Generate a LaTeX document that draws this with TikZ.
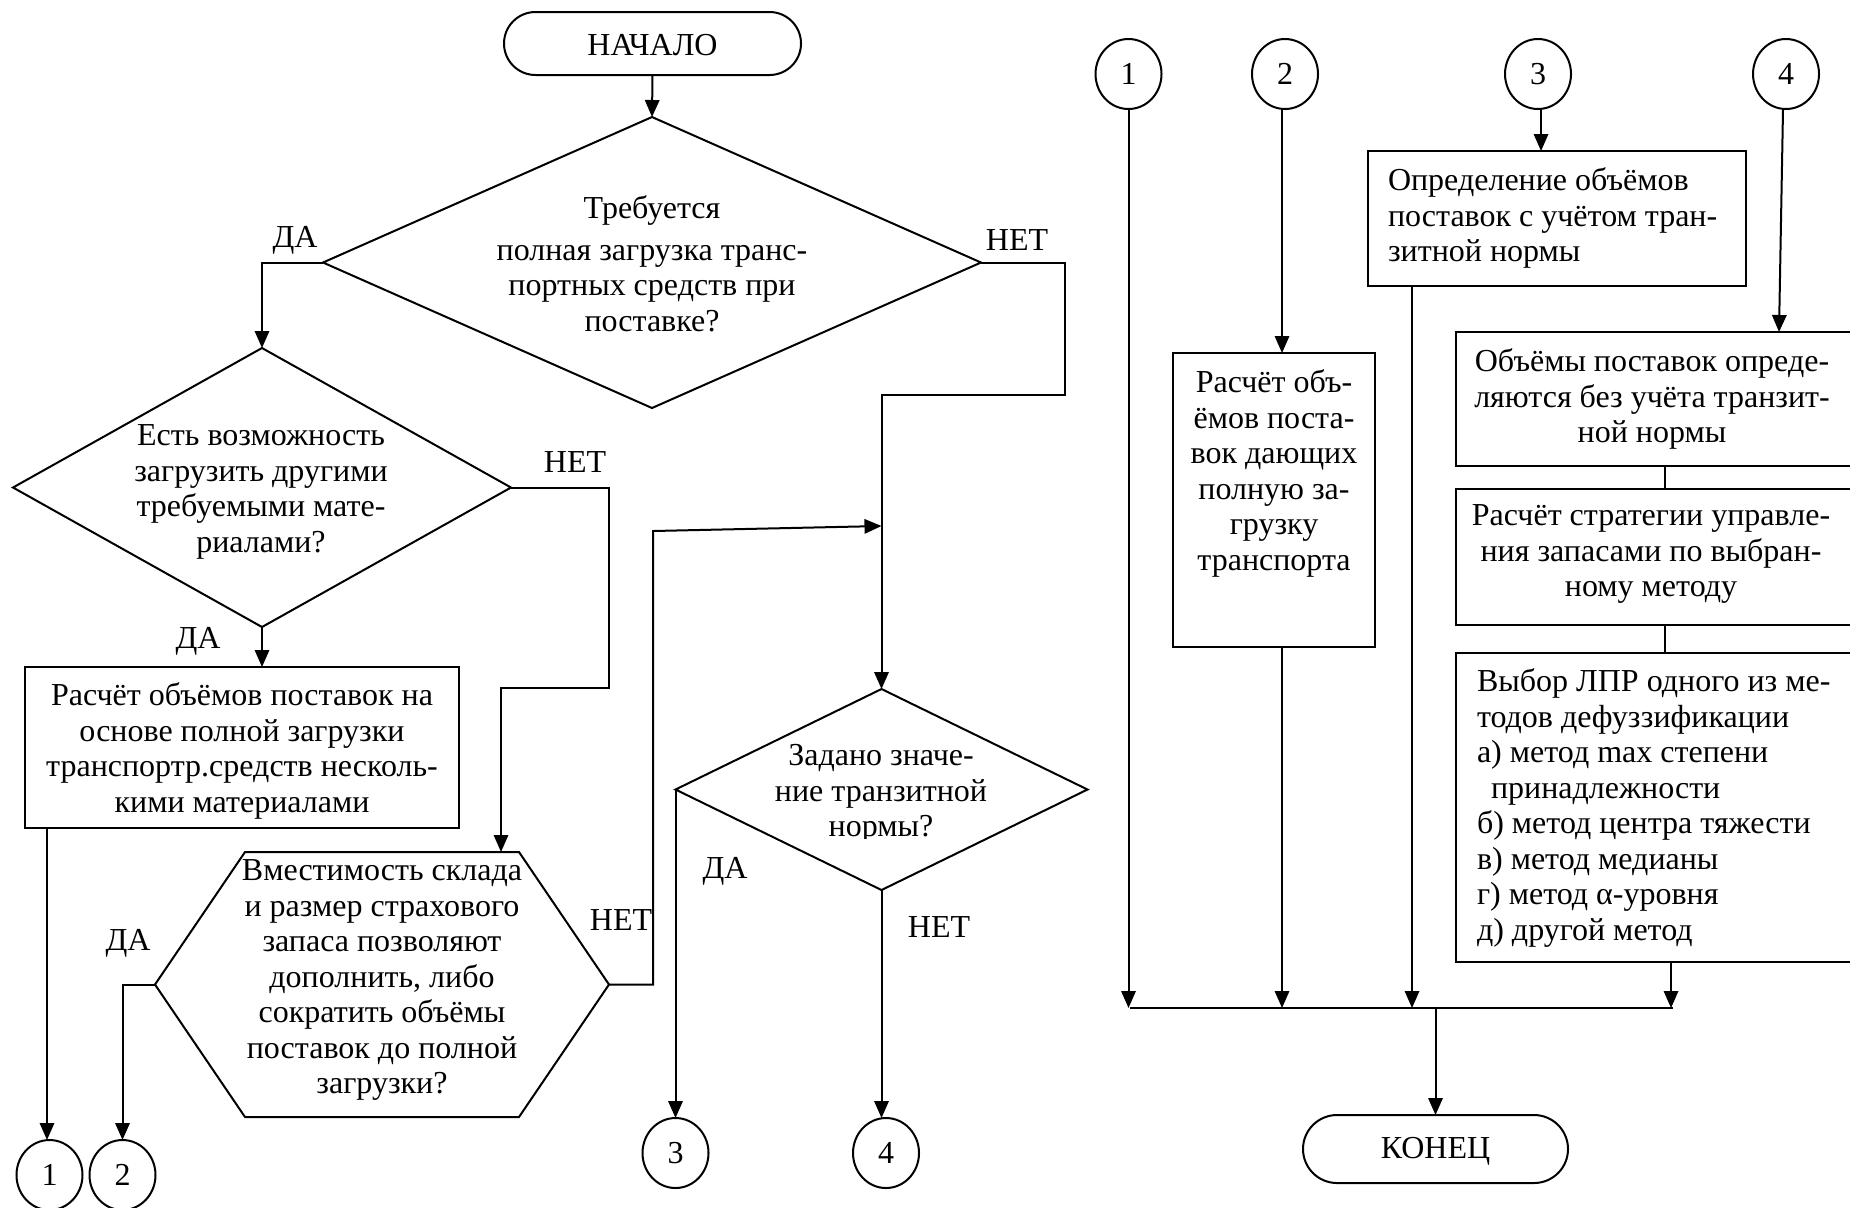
\documentclass[tikz,border=0pt]{standalone}
\usepackage{fontspec}
\setmainfont{Liberation Serif}
\usetikzlibrary{shapes.geometric,shapes.misc,arrows.meta}
\begin{document}
\begin{tikzpicture}[x=0.5pt,y=-0.5pt,
  every node/.style={font=\fontsize{16pt}{17.75pt}\selectfont, inner sep=0pt, outer sep=0pt},
  ln/.style={line width=1pt},
  arr/.style={ln, -{Triangle[length=8.5pt,width=7.2pt]}},
  shp/.style={draw, line width=1pt},
  dia/.style={shp, diamond},
  box/.style={shp, rectangle},
  term/.style={shp, rounded rectangle},
  conn/.style={shp, ellipse, minimum width=33pt, minimum height=35pt},
  txt/.style={align=center},
  ltxt/.style={align=left, anchor=west}
]
\useasboundingbox (0,0) rectangle (1850,1207);
\clip (0,0) rectangle (1850,1207);

% ---------- left part ----------
\node[term, minimum width=148.5pt, minimum height=31.5pt] (T1) at (652.5,43.5) {};
\node (T1t) at (652.5,45.5) {НАЧАЛО};

\node[dia, minimum width=329pt, minimum height=145.5pt] (D1) at (652,262.5) {};
\node[txt] (D1t) at (652,264) {Требуется\\[3pt]полная загрузка транс-\\портных средств при\\поставке?};

\node[dia, minimum width=249pt, minimum height=139.5pt] (D2) at (262,487.5) {};
\node[txt] (D2t) at (261,492) {Есть возможность\\загрузить другими\\требуемыми мате-\\риалами?};

\node[box, minimum width=217pt, minimum height=80.5pt] (B1) at (242,747.5) {};
\node[txt] (B1t) at (242,751) {Расчёт объёмов поставок на\\основе полной загрузки\\транспортр.средств несколь-\\кими материалами};

\node[minimum width=227pt, minimum height=132.5pt] (hex) at (382,984.5) {};
\draw[shp] ([xshift=45pt]hex.north west) -- ([xshift=-45pt]hex.north east) -- (hex.east)
  -- ([xshift=-45pt]hex.south east) -- ([xshift=45pt]hex.south west) -- (hex.west) -- cycle;
\node[txt] (hext) at (382,980) {Вместимость склада\\и размер страхового\\запаса позволяют\\дополнить, либо\\сократить объёмы\\поставок до полной\\загрузки?};

\node[dia, minimum width=206pt, minimum height=100.5pt] (D3) at (881.5,789.5) {};
\begin{scope}
\clip (660,700) rectangle (1100,838.5);
\node[txt] (D3t) at (881,794) {Задано значе-\\ние транзитной\\нормы?};
\end{scope}

\node[conn] (L1) at (49.5,1175) {1};
\node[conn] (L2) at (122.5,1175) {2};
\node[conn] (L3) at (675.5,1153) {3};
\node[conn] (L4) at (886,1153) {4};

% labels
\node (y1) at (295,240) {ДА};
\node (n1) at (1017,240) {НЕТ};
\node (n2) at (575,462) {НЕТ};
\node (y2) at (198,641) {ДА};
\node (y3) at (128,943) {ДА};
\node (n3) at (621,920) {НЕТ};
\node (y4) at (725,871) {ДА};
\node (n4) at (939,927) {НЕТ};

\coordinate (c1) at (1065,395);
\coordinate (c2) at (609,688);
\coordinate (c2b) at (501,688);
\coordinate (c3) at (653,531);

\draw[arr] (T1.south) -- (D1.north);
\draw[arr] (D1.west) -| (D2.north);
\draw[arr] (D1.east) -| (c1) -| (D3.north);
\draw[arr] (D2.south) -- (D2.south |- B1.north);
\draw[arr] (D2.east) -| (c2) -- (c2b) -- (c2b |- hex.north);
\draw[arr] (hex.east) -| (c3) -- ([yshift=2.5pt]c3 -| D3.north);
\draw[arr] (hex.west) -| (L2.north);
\draw[arr] ([xshift=-1.25pt]L1.north |- B1.south) -- ([xshift=-1.25pt]L1.north);
\draw[arr] (D3.west) -- (D3.west |- L3.north);
\draw[arr] (D3.south) -- (D3.south |- L4.north);

% ---------- right part ----------
\node[conn] (R1) at (1128.5,74) {1};
\node[conn] (R2) at (1285,74) {2};
\node[conn] (R3) at (1538,74) {3};
\node[conn] (R4) at (1786,74) {4};

\node[box, minimum width=101pt, minimum height=147pt] (B2) at (1274,500) {};
\node[txt, anchor=north] (B2t) at (1274,370) {Расчёт объ-\\ёмов поста-\\вок дающих\\полную за-\\грузку\\транспорта};

\node[box, minimum width=189pt, minimum height=67.5pt] (B3) at (1557,218.5) {};
\node[ltxt] (B3t) at (1388,218) {Определение объёмов\\поставок с учётом тран-\\зитной нормы};

\node[box, minimum width=198.5pt, minimum height=67pt] (B4) at (1654.5,399) {};
\node[txt] (B4t) at (1652,399) {Объёмы поставок опреде-\\ляются без учёта транзит-\\ной нормы};

\node[box, minimum width=198.5pt, minimum height=68pt] (B5) at (1654.5,557) {};
\node[txt] (B5t) at (1651,554) {Расчёт стратегии управле-\\ния запасами по выбран-\\ному методу};

\node[box, minimum width=198.5pt, minimum height=154.5pt] (B6) at (1654.5,807.5) {};
\node[ltxt] (B6t) at (1477,808) {Выбор ЛПР одного из ме-\\тодов дефуззификации\\а) метод max степени\\\hspace*{7pt}принадлежности\\б) метод центра тяжести\\в) метод медианы\\г) метод α-уровня\\д) другой метод};

\node[term, minimum width=132.5pt, minimum height=34pt] (T2) at (1435.5,1149) {};
\node (T2t) at (1435.5,1151) {КОНЕЦ};

\coordinate (busL) at (1130,1008);
\coordinate (busR) at (1673,1008);

\draw[ln] (busL) -- (busR);
\draw[arr] (R1.south) -- (R1.south |- busL);
\draw[arr] ([xshift=-1.5pt]R2.south) -- ([xshift=-1.5pt]R2.south |- B2.north);
\draw[arr] ([xshift=-1.5pt]R2.south |- B2.south) -- ([xshift=-1.5pt]R2.south |- busL);
\draw[arr] ([xshift=1.5pt]R3.south) -- ([xshift=1.5pt]R3.south |- B3.north);
\draw[arr] ([xshift=22pt]B3.south west) -- ([xshift=22pt]B3.south west |- busL);
\draw[arr] ([xshift=-1.5pt]R4.south) -- ([xshift=-3.5pt]R4.south |- B4.north);
\draw[ln] ([xshift=104.5pt]B4.south west) -- ([xshift=104.5pt]B5.north west);
\draw[ln] ([xshift=104.5pt]B5.south west) -- ([xshift=104.5pt]B6.north west);
\draw[arr] ([xshift=107.5pt]B6.south west) -- ([xshift=107.5pt]B6.south west |- busL);
\draw[arr] (T2.north |- busL) -- (T2.north);
\end{tikzpicture}
\end{document}
